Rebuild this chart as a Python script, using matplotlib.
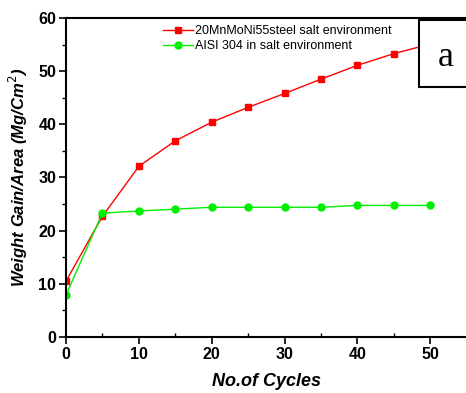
import matplotlib.pyplot as plt
from matplotlib.patches import Rectangle
from matplotlib.ticker import MultipleLocator

plt.rcParams["font.family"] = ["Liberation Sans", "DejaVu Sans"]

cycles = [0, 5, 10, 15, 20, 25, 30, 35, 40, 45, 50]
steel_gain = [10.5, 22.7, 32.1, 36.9, 40.4, 43.2, 45.8, 48.5, 51.1, 53.3, 55.1]
aisi_gain = [7.9, 23.3, 23.7, 24.05, 24.4, 24.4, 24.4, 24.4, 24.75, 24.75, 24.75]

fig = plt.figure(figsize=(4.66, 3.93), dpi=100)
ax = fig.add_axes([0.1416, 0.1425, 0.86, 0.8117])

ax.plot(cycles, steel_gain, "s-", color="red", lw=1, ms=4.5,
        label="20MnMoNi55steel salt environment")
ax.plot(cycles, aisi_gain, "o-", color="#00ee00", lw=1, ms=5,
        label="AISI 304 in salt environment")

ax.set_xlim(0, 55)
ax.set_ylim(0, 60)
ax.xaxis.set_major_locator(MultipleLocator(10))
ax.xaxis.set_minor_locator(MultipleLocator(5))
ax.yaxis.set_major_locator(MultipleLocator(10))
ax.yaxis.set_minor_locator(MultipleLocator(5))
ax.tick_params(which="major", length=5, width=1.2, labelsize=11.5, pad=2)
ax.tick_params(which="minor", length=3, width=1)
ax.tick_params(axis="x", which="minor", direction="in")
for lab in ax.get_xticklabels() + ax.get_yticklabels():
    lab.set_fontweight("bold")
for s in ["left", "bottom", "top"]:
    ax.spines[s].set_linewidth(1.5)
ax.spines["right"].set_visible(False)

ax.set_xlabel("No.of Cycles", fontsize=13, fontweight="bold", style="italic",
              labelpad=8)
ax.set_ylabel("Weight Gain/Area (Mg/Cm$^2$)", fontsize=12, fontweight="bold",
              style="italic", labelpad=6)

ax.legend(loc="upper left", bbox_to_anchor=(0.215, 1.012), frameon=False,
          fontsize=9, handlelength=2.4, handletextpad=0.1, labelspacing=0.2)

fig.patches.append(Rectangle((419 / 466, 1 - 87 / 393), 50 / 466, 67 / 393,
                             transform=fig.transFigure, fill=True, fc="white",
                             ec="black", lw=1.5, zorder=5))
fig.text(446 / 466, 1 - 57 / 393, "a", fontsize=26, family="Liberation Serif",
         ha="center", va="center", zorder=6)

fig.savefig("out.png", dpi=100)
